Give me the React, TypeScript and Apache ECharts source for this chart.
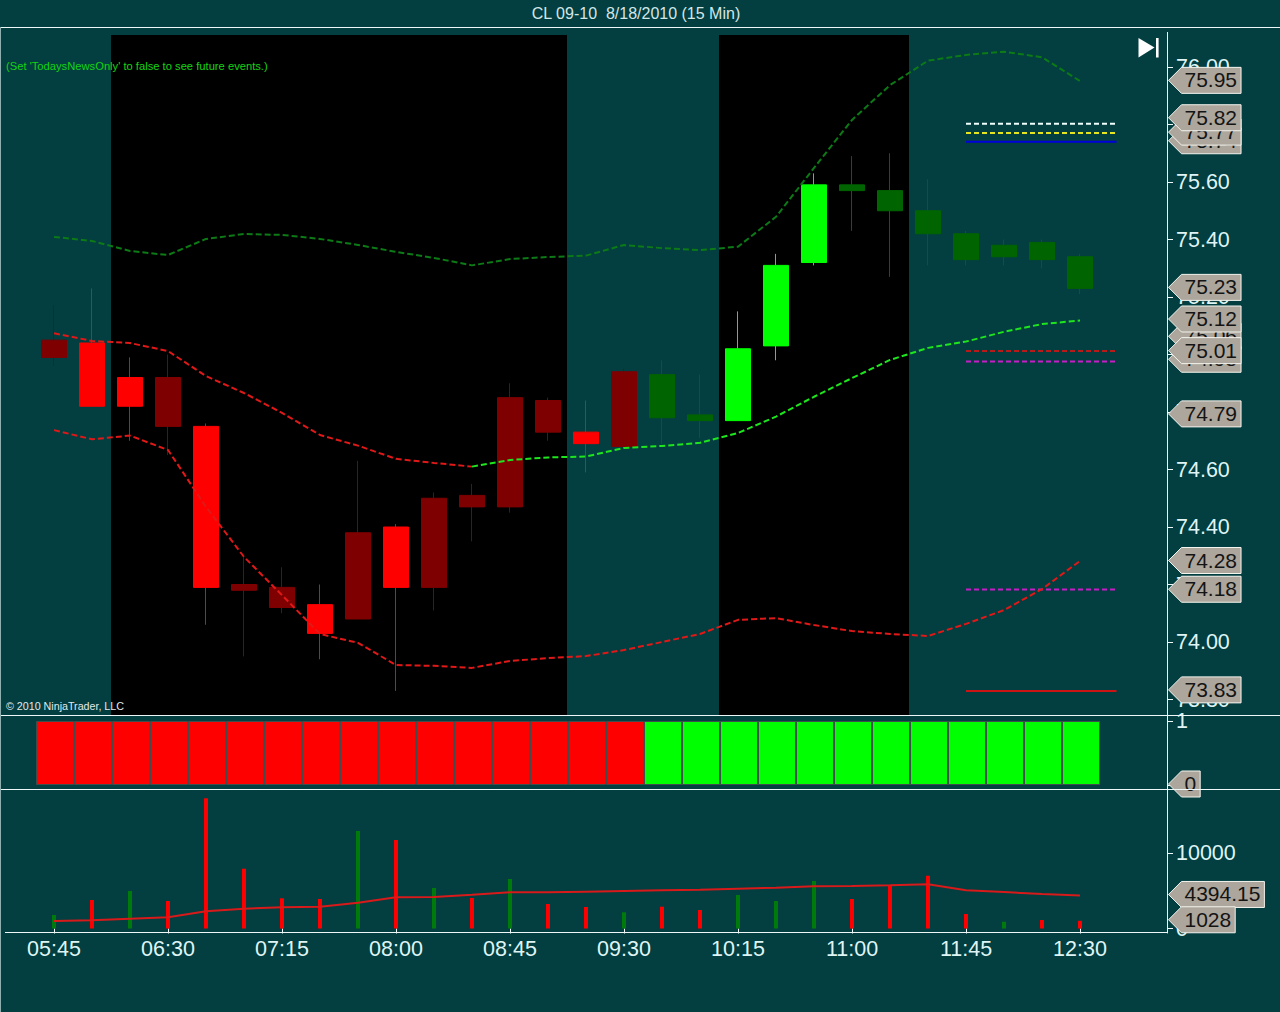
import React, { useEffect, useRef } from "react";
import * as echarts from "echarts";

// ---- categories ----
const timeLabels = [
  "05:45", "06:00", "06:15", "06:30", "06:45", "07:00", "07:15", "07:30", "07:45", "08:00",
  "08:15", "08:30", "08:45", "09:00", "09:15", "09:30", "09:45", "10:00", "10:15", "10:30",
  "10:45", "11:00", "11:15", "11:30", "11:45", "12:00", "12:15", "12:30", "", "",
];

// ---- candles: top and bottom of body, high, low ----
const bodyTop = [75.05, 75.04, 74.92, 74.92, 74.75, 74.2, 74.19, 74.13, 74.38, 74.4, 74.5, 74.51, 74.85, 74.84, 74.73, 74.94, 74.93, 74.79, 75.02, 75.31, 75.59, 75.59, 75.57, 75.5, 75.42, 75.38, 75.39, 75.34];
const bodyBottom = [74.99, 74.82, 74.82, 74.75, 74.19, 74.18, 74.12, 74.03, 74.08, 74.19, 74.19, 74.47, 74.47, 74.73, 74.69, 74.68, 74.78, 74.77, 74.77, 75.03, 75.32, 75.57, 75.5, 75.42, 75.33, 75.34, 75.33, 75.23];
const highs = [75.17, 75.23, 74.99, 75.0, 74.76, 74.3, 74.26, 74.2, 74.63, 74.41, 74.52, 74.55, 74.9, 74.85, 74.84, 74.95, 74.98, 74.93, 75.15, 75.35, 75.63, 75.69, 75.7, 75.61, 75.43, 75.4, 75.4, 75.35];
const lows = [74.96, 74.82, 74.7, 74.65, 74.06, 73.95, 74.1, 73.94, 74.08, 73.83, 74.11, 74.35, 74.45, 74.7, 74.59, 74.68, 74.69, 74.71, 74.77, 74.98, 75.31, 75.43, 75.27, 75.31, 75.31, 75.31, 75.3, 75.21];
// r = bright red, d = dark red, g = bright green, f = dark green
const candleKinds = "drrdrddrdrddddrdffggg".split("").concat("fffffff".split(""));

// ---- indicator lines ----
const upperBand = [75.409, 75.395, 75.36, 75.346, 75.402, 75.419, 75.416, 75.402, 75.381, 75.357, 75.336, 75.31, 75.332, 75.339, 75.344, 75.381, 75.37, 75.363, 75.375, 75.479, 75.649, 75.816, 75.937, 76.022, 76.042, 76.053, 76.034, 75.951];
const middleBand = [75.074, 75.047, 75.04, 75.012, 74.925, 74.866, 74.797, 74.72, 74.683, 74.637, 74.623, 74.61, 74.633, 74.642, 74.645, 74.675, 74.682, 74.693, 74.727, 74.784, 74.853, 74.918, 74.981, 75.023, 75.045, 75.079, 75.106, 75.118];
const middleTurnIndex = 11;
const lowerBand = [74.737, 74.705, 74.718, 74.668, 74.47, 74.296, 74.163, 74.028, 73.997, 73.92, 73.917, 73.91, 73.934, 73.944, 73.951, 73.972, 74.0, 74.028, 74.077, 74.083, 74.059, 74.038, 74.028, 74.021, 74.063, 74.111, 74.184, 74.282];

// ---- level lines at the right ----
const levelValues = [75.803, 75.77, 75.74, 75.012, 74.976, 74.183, 73.83];
const levelColors = ["#f2ffff", "#e6e620", "#0000dd", "#b81a1a", "#c41fc4", "#c41fc4", "#cc1414"];
const levelDashed = [true, true, false, true, true, true, false];

// ---- price tags (later ones lie over earlier ones) ----
const priceTags = [75.74, 75.77, 75.82, 75.95, 75.23, 75.06, 75.12, 74.98, 75.01, 74.79, 74.28, 74.18, 73.83];
const stateTags = [0];
const volumeTags = [4394.15, 1028];

// ---- session shading: 1 = black ----
const sessionDark = [0, 0, 1, 1, 1, 1, 1, 1, 1, 1, 1, 1, 1, 1, 0, 0, 0, 0, 1, 1, 1, 1, 1, 0, 0, 0, 0, 0];

// ---- state strip ----
const stateKinds = "rrrrrrrrrrrrrrrrgggggggggggg".split("");

// ---- volume ----
const volumes = [1795, 3790, 4987, 3657, 17314, 7952, 4016, 3923, 12965, 11769, 5386, 4056, 6582, 3258, 2859, 2154, 2899, 2460, 4455, 3657, 6316, 3923, 5652, 7021, 1928, 904, 1130, 1028];
const volumeUp = [1, 0, 1, 0, 0, 0, 0, 0, 1, 0, 1, 0, 1, 0, 0, 1, 0, 0, 1, 1, 1, 0, 0, 0, 0, 1, 0, 0];
const volumeAverage = [997, 1090, 1303, 1489, 2287, 2633, 2819, 2899, 3431, 4149, 4189, 4495, 4814, 4814, 4894, 4987, 5080, 5160, 5293, 5426, 5612, 5652, 5745, 5878, 5080, 4854, 4588, 4394.15];

// ---- tick labels ----
const priceTicks = [73.8, 74.0, 74.2, 74.4, 74.6, 74.8, 75.0, 75.2, 75.4, 75.6, 75.8, 76.0];
const stateTicks = [0, 1];
const volumeTicks = [0, 10000];

const titleText = "CL 09-10  8/18/2010 (15 Min)";
const newsText = "(Set 'TodaysNewsOnly' to false to see future events.)";
const copyrightText = "\u00a9 2010 NinjaTrader, LLC";

const BG = "#033e40";
const LINE = "#eef8f8";
const AXIS_TEXT = "#dff5f5";
const FONT = '"Liberation Sans", Arial, sans-serif';
const PRICE_MAX = 76.1113;
const PRICE_MIN = 73.7461;

const candleColor: Record<string, string> = { r: "#ff0000", d: "#7f0000", g: "#00ff00", f: "#006400" };

function textWidth(s: string) {
  let w = 0;
  for (const ch of s) w += ch === "." ? 0.278 : 0.556;
  return w * 21;
}

function tagRenderer(format: (v: number) => string) {
  return (_params: any, api: any) => {
    const v = api.value(1) as number;
    const y = api.coord([0, v])[1] - 1;
    const text = format(v);
    const tipX = 1168.5;
    const shoulderX = 1181.5;
    const textX = 1184.5;
    const right = textX + textWidth(text) + 4;
    const h = 13;
    return {
      type: "group",
      children: [
        {
          type: "polygon",
          shape: { points: [[tipX, y], [shoulderX, y - h], [right, y - h], [right, y + h], [shoulderX, y + h]] },
          style: { fill: "#aca69c", stroke: "#f4f4ee", lineWidth: 1 },
        },
        {
          type: "text",
          style: { text, x: textX, y: y - 0.5, fill: "#141414", font: `21px ${FONT}`, textAlign: "left", textVerticalAlign: "middle" },
        },
      ],
    };
  };
}

function levelRenderer(_params: any, api: any) {
  const idx = api.value(0) as number;
  const v = api.value(1) as number;
  const y = api.coord([24, v])[1];
  const x = api.coord([24, v])[0];
  return {
    type: "line",
    shape: { x1: x, y1: y, x2: x + 150.5, y2: y },
    style: {
      stroke: levelColors[idx],
      lineWidth: 2,
      lineDash: levelDashed[idx] ? [5, 3] : null,
    },
  };
}

function yAxisBase(gridIndex: number, min: number, max: number, ticks: number[], fmt: (v: number) => string) {
  return {
    type: "value",
    gridIndex,
    position: "right",
    offset: -8,
    min,
    max,
    splitLine: { show: false },
    axisLine: { show: true, lineStyle: { color: LINE, width: 1 } },
    axisTick: { show: true, length: 6, customValues: ticks, lineStyle: { color: LINE, width: 1 } },
    axisLabel: {
      customValues: ticks,
      color: AXIS_TEXT,
      fontFamily: FONT,
      fontSize: 21.5,
      margin: 9,
      padding: [0, 0, 2, 0],
      formatter: fmt,
      hideOverlap: false,
    },
  };
}

function xAxisBase(gridIndex: number, visible: boolean) {
  return {
    type: "category",
    gridIndex,
    data: timeLabels,
    boundaryGap: true,
    axisLine: { show: false },
    axisTick: visible
      ? { show: true, alignWithLabel: true, interval: 2, length: 5, lineStyle: { color: LINE } }
      : { show: false },
    axisLabel: visible
      ? { show: true, interval: 2, color: AXIS_TEXT, fontFamily: FONT, fontSize: 21.5, margin: 5 }
      : { show: false },
    splitLine: { show: false },
  };
}

function bandLine(name: string, data: (number | null)[], color: string, width: number) {
  return {
    name,
    type: "line",
    xAxisIndex: 0,
    yAxisIndex: 0,
    data,
    symbol: "none",
    z: 6,
    connectNulls: false,
    lineStyle: { color, width, type: [6, 3] },
  };
}

function buildOption() {
  const staticLines = [
    [0, 27.5, 1280, 27.5],
    [0, 715.5, 1280, 715.5],
    [0, 789.5, 1280, 789.5],
    [5, 932.5, 1167.5, 932.5],
    [1167.5, 32, 1167.5, 35],
  ];
  return {
    animation: false,
    backgroundColor: BG,
    textStyle: { fontFamily: FONT },
    title: {
      text: titleText,
      left: 631,
      top: 0,
      textAlign: "center",
      textStyle: { color: "#d4e6e6", fontFamily: FONT, fontSize: 16, fontWeight: "normal" },
    },
    grid: [
      { left: 35, width: 1140, top: 35, height: 680 },
      { left: 36, width: 1140, top: 715, height: 74 },
      { left: 35, width: 1140, top: 789, height: 144 },
    ],
    xAxis: [xAxisBase(0, false), xAxisBase(1, false), xAxisBase(2, true)],
    yAxis: [
      yAxisBase(0, PRICE_MIN, PRICE_MAX, priceTicks, (v: number) => v.toFixed(2)),
      { ...yAxisBase(1, -0.0625, 1.09375, stateTicks, (v: number) => String(v)), offset: -9 },
      yAxisBase(2, -598, 18550, volumeTicks, (v: number) => String(v)),
    ],
    series: [
      {
        name: "Session",
        type: "bar",
        xAxisIndex: 0,
        yAxisIndex: 0,
        barWidth: "100%",
        z: 1,
        silent: true,
        data: sessionDark.map((f) => (f ? PRICE_MAX : null)),
        itemStyle: { color: "#000000" },
      },
      {
        name: "CL 09-10",
        type: "candlestick",
        xAxisIndex: 0,
        yAxisIndex: 0,
        barWidth: 25,
        z: 4,
        data: bodyTop.map((top, i) => {
          const c = candleColor[candleKinds[i]];
          return {
            value: [top, bodyBottom[i], lows[i], highs[i]],
            itemStyle: { color: c, color0: c, borderColor: c, borderColor0: c, borderColorDoji: c, borderWidth: 1 },
          };
        }),
      },
      bandLine("Upper", upperBand, "#0c7a16", 2),
      bandLine("Middle down", middleBand.map((v, i) => (i <= middleTurnIndex ? v : null)), "#e01818", 2),
      bandLine("Middle up", middleBand.map((v, i) => (i >= middleTurnIndex ? v : null)), "#1ee61e", 2),
      bandLine("Lower", lowerBand, "#e01818", 2),
      {
        name: "Levels",
        type: "custom",
        xAxisIndex: 0,
        yAxisIndex: 0,
        z: 5,
        data: levelValues.map((v, i) => [i, v]),
        encode: { x: 0, y: 1 },
        renderItem: levelRenderer,
      },
      {
        name: "Price tags",
        type: "custom",
        xAxisIndex: 0,
        yAxisIndex: 0,
        z: 20,
        data: priceTags.map((v) => [0, v]),
        encode: { x: 0, y: 1 },
        renderItem: tagRenderer((v) => v.toFixed(2)),
      },
      {
        name: "State",
        type: "bar",
        xAxisIndex: 1,
        yAxisIndex: 1,
        barWidth: "100%",
        z: 3,
        data: stateKinds.map((k) => ({
          value: 1,
          itemStyle: { color: k === "r" ? "#ff0000" : "#00ff00", borderColor: "#3f4d4d", borderWidth: 1 },
        })),
      },
      {
        name: "State tag",
        type: "custom",
        xAxisIndex: 1,
        yAxisIndex: 1,
        z: 20,
        data: stateTags.map((v) => [0, v]),
        encode: { x: 0, y: 1 },
        renderItem: tagRenderer((v) => String(v)),
      },
      {
        name: "Volume",
        type: "bar",
        xAxisIndex: 2,
        yAxisIndex: 2,
        barWidth: 4,
        z: 3,
        data: volumes.map((v, i) => ({
          value: v,
          itemStyle: { color: volumeUp[i] ? "#007a0a" : "#ff0000" },
        })),
      },
      {
        name: "Volume average",
        type: "line",
        xAxisIndex: 2,
        yAxisIndex: 2,
        z: 4,
        symbol: "none",
        data: volumeAverage,
        lineStyle: { color: "#d81a1a", width: 2 },
      },
      {
        name: "Volume tags",
        type: "custom",
        xAxisIndex: 2,
        yAxisIndex: 2,
        z: 20,
        data: volumeTags.map((v) => [0, v]),
        encode: { x: 0, y: 1 },
        renderItem: tagRenderer((v) => String(v)),
      },
    ],
    graphic: [
      ...staticLines.map(([x1, y1, x2, y2]) => ({
        type: "line",
        z: 30,
        silent: true,
        shape: { x1, y1, x2, y2 },
        style: { stroke: LINE, lineWidth: 1 },
      })),
      {
        type: "line",
        z: 30,
        silent: true,
        shape: { x1: 0.5, y1: 27, x2: 0.5, y2: 1012 },
        style: { stroke: "#8fb0b0", lineWidth: 1 },
      },
      {
        type: "text",
        z: 30,
        silent: true,
        style: { text: newsText, x: 6, y: 66, fill: "#14d414", font: `11.2px ${FONT}`, textVerticalAlign: "middle" },
      },
      {
        type: "text",
        z: 30,
        silent: true,
        style: { text: copyrightText, x: 6, y: 706, fill: "#e2e8e8", font: `10.7px ${FONT}`, textVerticalAlign: "middle" },
      },
      {
        type: "polygon",
        z: 30,
        silent: true,
        shape: { points: [[1138.5, 38], [1154.5, 47.5], [1138.5, 57.5]] },
        style: { fill: "#ffffff" },
      },
      {
        type: "rect",
        z: 30,
        silent: true,
        shape: { x: 1156, y: 38, width: 2.6, height: 19.5 },
        style: { fill: "#ffffff" },
      },
    ],
  };
}

export default function App() {
  const ref = useRef<HTMLDivElement | null>(null);
  useEffect(() => {
    const chart = echarts.init(ref.current!, undefined, { renderer: "svg" });
    chart.setOption(buildOption() as any);
    return () => chart.dispose();
  }, []);
  return (
    <div
      ref={ref}
      style={{ position: "absolute", left: 0, top: 0, width: 1280, height: 1012 }}
    />
  );
}
